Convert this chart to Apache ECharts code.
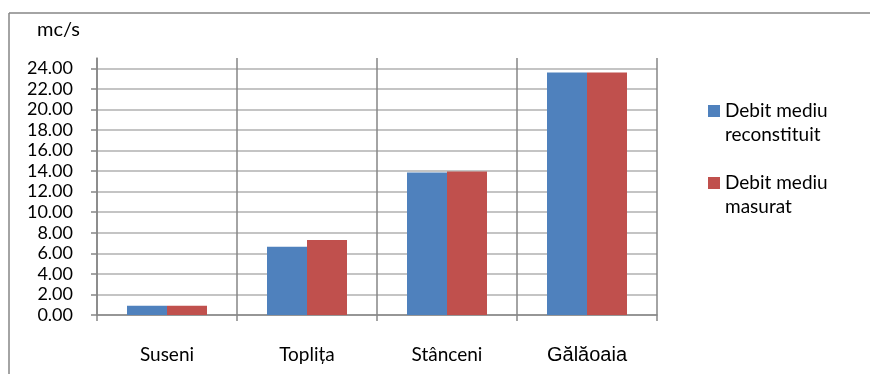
<!DOCTYPE html>
<html>
<head>
<meta charset="utf-8">
<script src="https://cdn.jsdelivr.net/npm/echarts@6/dist/echarts.min.js"></script>
<style>
  html, body { margin: 0; padding: 0; background: #fff; }
  #chart { width: 870px; height: 374px; }
</style>
</head>
<body>
<div id="chart"></div>
<script>
  const categories = ['Suseni', 'Toplița', 'Stânceni', 'Gălăoaia'];
  const reconstituit = [0.9, 6.65, 13.85, 23.6];
  const masurat = [0.9, 7.3, 13.95, 23.6];
  const yTicks = [0, 2, 4, 6, 8, 10, 12, 14, 16, 18, 20, 22, 24];

  const axisGrey = '#868686';
  const font = 'Lato';

  const chart = echarts.init(document.getElementById('chart'));
  chart.setOption({
    animation: false,
    color: ['#4f81bd', '#c0504d'],
    textStyle: { fontFamily: font },
    // chart frame, cut off at the right and bottom
    graphic: [
      {
        type: 'line',
        shape: { x1: 9, y1: 13, x2: 870, y2: 13 },
        style: { stroke: axisGrey, lineWidth: 1.5 },
        silent: true
      },
      {
        type: 'line',
        shape: { x1: 9, y1: 13, x2: 9, y2: 374 },
        style: { stroke: axisGrey, lineWidth: 1.5 },
        silent: true
      }
    ],
    grid: {
      left: 97,
      right: 213,
      top: 58,
      bottom: 59
    },
    legend: {
      orient: 'vertical',
      left: 708,
      top: 75,
      padding: 0,
      itemGap: 0,
      itemWidth: 12,
      itemHeight: 12,
      icon: 'rect',
      data: ['Debit mediu\nreconstituit', 'Debit mediu\nmasurat'],
      // blank first line so the square sits beside the first text line
      formatter: function (name) { return ' \n' + name; },
      textStyle: {
        fontFamily: font,
        fontSize: 19,
        color: '#000',
        lineHeight: 24
      }
    },
    xAxis: {
      type: 'category',
      data: categories,
      axisLine: { lineStyle: { color: axisGrey, width: 1.5 } },
      axisTick: { show: true, length: 6, lineStyle: { color: axisGrey, width: 1.5 } },
      splitLine: { show: true, lineStyle: { color: axisGrey, width: 1.5 } },
      axisLabel: {
        margin: 30,
        color: '#000',
        fontFamily: font,
        fontSize: 19,
        formatter: function (v) {
          return v === 'Gălăoaia' ? '{b|' + v + '}' : v;
        },
        rich: {
          b: { fontFamily: 'Liberation Sans', fontSize: 20, color: '#000' }
        }
      }
    },
    yAxis: {
      type: 'value',
      min: 0,
      max: 25,
      interval: 1,
      name: 'mc/s',
      nameLocation: 'end',
      nameGap: 18,
      nameTextStyle: {
        color: '#000',
        fontFamily: font,
        fontSize: 20,
        align: 'right',
        padding: [0, 17, 0, 0]
      },
      axisLine: { show: true, lineStyle: { color: axisGrey, width: 1.5 } },
      axisTick: {
        show: true,
        length: 6,
        customValues: yTicks,
        lineStyle: { color: axisGrey, width: 1.5 }
      },
      splitLine: { show: true, lineStyle: { color: '#b0b0b0', width: 1.5 } },
      axisLabel: {
        margin: 24,
        color: '#000',
        fontFamily: font,
        fontSize: 18,
        formatter: function (v) {
          return yTicks.indexOf(v) >= 0 ? v.toFixed(2) : '';
        }
      }
    },
    series: [
      {
        name: 'Debit mediu\nreconstituit',
        type: 'bar',
        barWidth: 40,
        barGap: '0%',
        data: reconstituit
      },
      {
        name: 'Debit mediu\nmasurat',
        type: 'bar',
        barWidth: 40,
        barGap: '0%',
        data: masurat
      }
    ]
  });
</script>
</body>
</html>
